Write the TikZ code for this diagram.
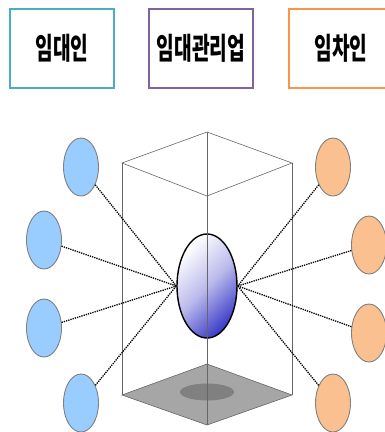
\documentclass[tikz,border=0pt]{standalone}
\usepackage{fontspec}
\newfontfamily\krfont{Noto Sans CJK KR}[FakeStretch=0.64]
\usetikzlibrary{shapes.geometric}
\definecolor{boxteal}{RGB}{75,172,198}
\definecolor{boxpurple}{RGB}{128,100,162}
\definecolor{boxorange}{RGB}{247,150,70}
\definecolor{dotblue}{RGB}{153,204,255}
\definecolor{dotorange}{RGB}{250,192,144}
\definecolor{hubblue}{RGB}{60,60,200}
\begin{document}
\begin{tikzpicture}[
    x=1pt, y=-1pt,
    every node/.style={font=\krfont\bfseries\fontsize{30}{30}\selectfont, align=center},
    rolebox/.style={rectangle, line width=1.3pt, fill=white,
                    minimum width=104pt, minimum height=79pt, inner sep=2pt},
    party/.style={ellipse, draw=black!50, line width=0.9pt,
                  minimum width=35pt, minimum height=58pt, inner sep=0pt},
    party lessor/.style={party, fill=dotblue},
    party tenant/.style={party, fill=dotorange},
    hub/.style={ellipse, draw=black, line width=1.4pt,
                minimum width=60pt, minimum height=104pt, inner sep=0pt,
                top color=white, bottom color=hubblue, middle color=hubblue!35,
                shading angle=45},
    edge/.style={gray!80!black, line width=0.6pt},
    link/.style={densely dotted, line width=1.3pt},
]
\useasboundingbox (0,0) rectangle (384,432);

% ---------- Role boxes ----------
\node[rolebox, draw=boxteal]   (lessor) at (62, 48.5)  {임대인};
\node[rolebox, draw=boxpurple] (agency) at (201, 48.5) {임대관리업};
\node[rolebox, draw=boxorange] (tenant) at (341, 48.5) {임차인};

% ---------- Prism ----------
\coordinate (tb) at (207, 132);
\coordinate (tl) at (122, 163);
\coordinate (tf) at (207, 196);
\coordinate (tr) at (292, 163);
\coordinate (bb) at (207, 364);
\coordinate (bl) at (122, 395);
\coordinate (bf) at (207, 425);
\coordinate (br) at (292, 395);

\fill[black!35] (bl) -- (bb) -- (br) -- (bf) -- cycle;
\fill[black!50] (207, 392) ellipse [x radius=27, y radius=8.5];
\draw[edge] (tl) -- (tb) -- (tr) -- (tf) -- cycle;
\draw[edge] (bl) -- (bb) -- (br) -- (bf) -- cycle;
\draw[edge] (tl) -- (bl);
\draw[edge] (tr) -- (br);

% ---------- Hub ----------
\node[hub] (center) at (207, 286) {};
\draw[edge] (tb) -- (bf);

% ---------- Lessors (left) ----------
\node[party lessor] (l1) at (81, 167) {};
\node[party lessor] (l2) at (44, 240) {};
\node[party lessor] (l3) at (44, 328) {};
\node[party lessor] (l4) at (81, 403) {};

% ---------- Tenants (right) ----------
\node[party tenant] (r1) at (333, 167) {};
\node[party tenant] (r2) at (369, 245) {};
\node[party tenant] (r3) at (369, 333) {};
\node[party tenant] (r4) at (333, 403) {};

% ---------- Links ----------
\draw[link] (l1) -- (center.west);
\draw[link] (l2) -- (center.west);
\draw[link] (l3) -- (center.west);
\draw[link] (l4) -- (center.west);

\draw[link] (r1) -- (center.east);
\draw[link] (r2) -- (center.east);
\draw[link] (r3) -- (center.east);
\draw[link] (r4) -- (center.east);

\end{tikzpicture}
\end{document}
